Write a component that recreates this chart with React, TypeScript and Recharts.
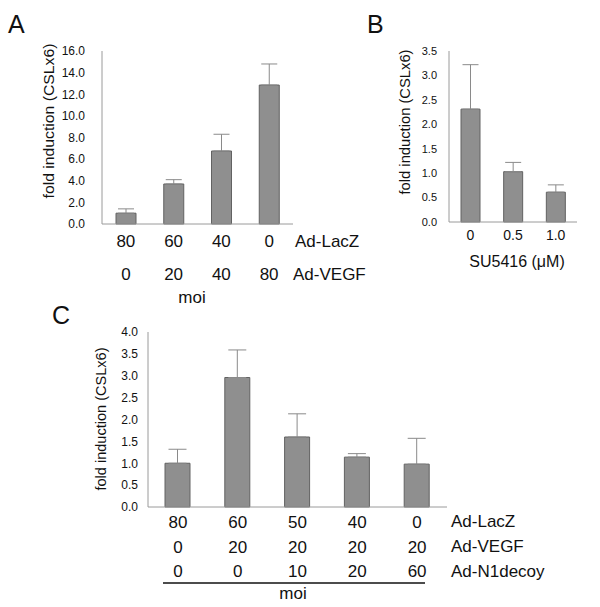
import React from "react";
import { BarChart, Bar, XAxis, YAxis, ErrorBar, ReferenceArea } from "recharts";

const FONT = "'Liberation Sans', Arial, Helvetica, sans-serif";
const BAR_FILL = "#8f8f8f";
const BAR_STROKE = "#626262";
const FRAME = "#9a9a9a";
const ERR = "#8a8a8a";
const INK = "#111";

// panel A: Ad-LacZ / Ad-VEGF titration
const aLacZ = ["80", "60", "40", "0"];
const aVegf = ["0", "20", "40", "80"];
const aValues = [1.0, 3.7, 6.75, 12.85];
const aErrors = [0.4, 0.4, 1.55, 1.95];
const aTicks = [0, 2, 4, 6, 8, 10, 12, 14, 16];

// panel B: SU5416 dose
const bDoses = ["0", "0.5", "1.0"];
const bValues = [2.31, 1.03, 0.61];
const bErrors = [0.91, 0.19, 0.15];
const bTicks = [0, 0.5, 1, 1.5, 2, 2.5, 3, 3.5];

// panel C: N1 decoy
const cLacZ = ["80", "60", "50", "40", "0"];
const cVegf = ["0", "20", "20", "20", "20"];
const cDecoy = ["0", "0", "10", "20", "60"];
const cValues = [1.0, 2.96, 1.6, 1.14, 0.98];
const cErrors = [0.32, 0.63, 0.53, 0.08, 0.59];
const cTicks = [0, 0.5, 1, 1.5, 2, 2.5, 3, 3.5, 4];

function toRows(names: string[], values: number[], errors: number[]) {
  return names.map((name, i) => ({ name, value: values[i], err: [0, errors[i]] }));
}

function RowTick(props: any) {
  const { x, y, payload, rows, offsets, fontSize } = props;
  const i = props.index ?? payload.index;
  return (
    <g>
      {rows.map((r: string[], k: number) => (
        <text key={k} x={x} y={y + offsets[k]} textAnchor="middle" fontSize={fontSize} fontFamily={FONT} fill={INK}>
          {r[i]}
        </text>
      ))}
    </g>
  );
}

interface PanelProps {
  data: { name: string; value: number; err: number[] }[];
  ticks: number[];
  width: number;
  height: number;
  margin: { top: number; right: number; bottom: number; left: number };
  yWidth: number;
  xHeight: number;
  yFont: number;
  yGap: number;
  barSize: number;
  capWidth: number;
  rows: string[][];
  rowOffsets: number[];
  rowFont: number;
}

function Panel(p: PanelProps) {
  const n = p.data.length;
  const top = p.ticks[p.ticks.length - 1];
  const bounds = p.data.map((_, i) => i).slice(1);
  return (
    <BarChart width={p.width} height={p.height} data={p.data} margin={p.margin}>
      <XAxis
        dataKey="name"
        height={p.xHeight}
        axisLine={{ stroke: FRAME }}
        tickLine={false}
        tickSize={0}
        tickMargin={0}
        interval={0}
        tick={(t: any) => <RowTick {...t} rows={p.rows} offsets={p.rowOffsets} fontSize={p.rowFont} />}
      />
      <XAxis
        xAxisId="edge"
        type="number"
        domain={[0, n]}
        ticks={bounds}
        allowDataOverflow
        mirror
        height={0}
        tick={false}
        axisLine={false}
        tickLine={{ stroke: "#777" }}
        tickSize={4}
      />
      <YAxis
        width={p.yWidth}
        domain={[0, top]}
        ticks={p.ticks}
        interval={0}
        axisLine={{ stroke: FRAME }}
        tickLine={false}
        tickSize={0}
        tickMargin={p.yGap}
        tickFormatter={(v: number) => v.toFixed(1)}
        tick={{ fontSize: p.yFont, fill: INK, fontFamily: FONT }}
      />
      <ReferenceArea xAxisId="edge" x1={0} x2={n} y1={0} y2={top} fill="none" stroke={FRAME} />
      <Bar dataKey="value" fill={BAR_FILL} stroke={BAR_STROKE} barSize={p.barSize} isAnimationActive={false}>
        <ErrorBar dataKey="err" direction="y" width={p.capWidth} stroke={ERR} strokeWidth={1} />
      </Bar>
    </BarChart>
  );
}

function Txt(props: any) {
  const { children, ...rest } = props;
  return (
    <text fontFamily={FONT} fill={INK} {...rest}>
      {children}
    </text>
  );
}

function YTitle({ cx, cy, len }: { cx: number; cy: number; len: number }) {
  return (
    <text
      x={cx}
      y={cy}
      transform={`rotate(-90, ${cx}, ${cy})`}
      textAnchor="middle"
      dominantBaseline="central"
      fontSize={14}
      fontFamily={FONT}
      fill={INK}
      textLength={len}
      lengthAdjust="spacingAndGlyphs"
    >
      fold induction (CSLx6)
    </text>
  );
}

export default function App() {
  return (
    <div style={{ position: "absolute", left: 0, top: 0, width: 600, height: 607, background: "#fff" }}>
      <div style={{ position: "absolute", left: 0, top: 0 }}>
        <Panel
          data={toRows(aLacZ, aValues, aErrors)}
          ticks={aTicks}
          width={320}
          height={310}
          margin={{ top: 51, right: 27, bottom: 0, left: 0 }}
          yWidth={102}
          xHeight={86}
          yFont={12}
          yGap={17}
          barSize={20}
          capWidth={8}
          rows={[aLacZ, aVegf]}
          rowOffsets={[23, 56]}
          rowFont={17}
        />
      </div>
      <div style={{ position: "absolute", left: 330, top: 0 }}>
        <Panel
          data={toRows(bDoses, bValues, bErrors)}
          ticks={bTicks}
          width={270}
          height={300}
          margin={{ top: 51, right: 23, bottom: 0, left: 0 }}
          yWidth={119}
          xHeight={78}
          yFont={11}
          yGap={12}
          barSize={19}
          capWidth={8}
          rows={[bDoses]}
          rowOffsets={[18]}
          rowFont={14}
        />
      </div>
      <div style={{ position: "absolute", left: 0, top: 300 }}>
        <Panel
          data={toRows(cLacZ, cValues, cErrors)}
          ticks={cTicks}
          width={600}
          height={307}
          margin={{ top: 32, right: 153, bottom: 0, left: 0 }}
          yWidth={148}
          xHeight={100}
          yFont={12}
          yGap={10}
          barSize={25}
          capWidth={9}
          rows={[cLacZ, cVegf, cDecoy]}
          rowOffsets={[21, 46, 70]}
          rowFont={17}
        />
      </div>
      <svg width={600} height={607} style={{ position: "absolute", left: 0, top: 0, pointerEvents: "none" }}>
        <Txt x={8} y={33} fontSize={25}>A</Txt>
        <Txt x={367} y={33} fontSize={25}>B</Txt>
        <Txt x={52} y={324} fontSize={25}>C</Txt>

        <YTitle cx={49} cy={121} len={155} />
        <YTitle cx={405} cy={122} len={145} />
        <YTitle cx={101} cy={419} len={143} />

        <Txt x={295} y={247} fontSize={17}>Ad-LacZ</Txt>
        <Txt x={293} y={280} fontSize={17}>Ad-VEGF</Txt>
        <Txt x={192} y={303} fontSize={17} textAnchor="middle">moi</Txt>

        <Txt x={517} y={267} fontSize={16} textAnchor="middle">SU5416 (μM)</Txt>

        <Txt x={451} y={527} fontSize={17}>Ad-LacZ</Txt>
        <Txt x={451} y={552} fontSize={17}>Ad-VEGF</Txt>
        <Txt x={451} y={577} fontSize={17}>Ad-N1decoy</Txt>
        <line x1={163} y1={583} x2={425} y2={583} stroke={INK} strokeWidth={1.5} />
        <Txt x={293} y={599} fontSize={17} textAnchor="middle">moi</Txt>
      </svg>
    </div>
  );
}
